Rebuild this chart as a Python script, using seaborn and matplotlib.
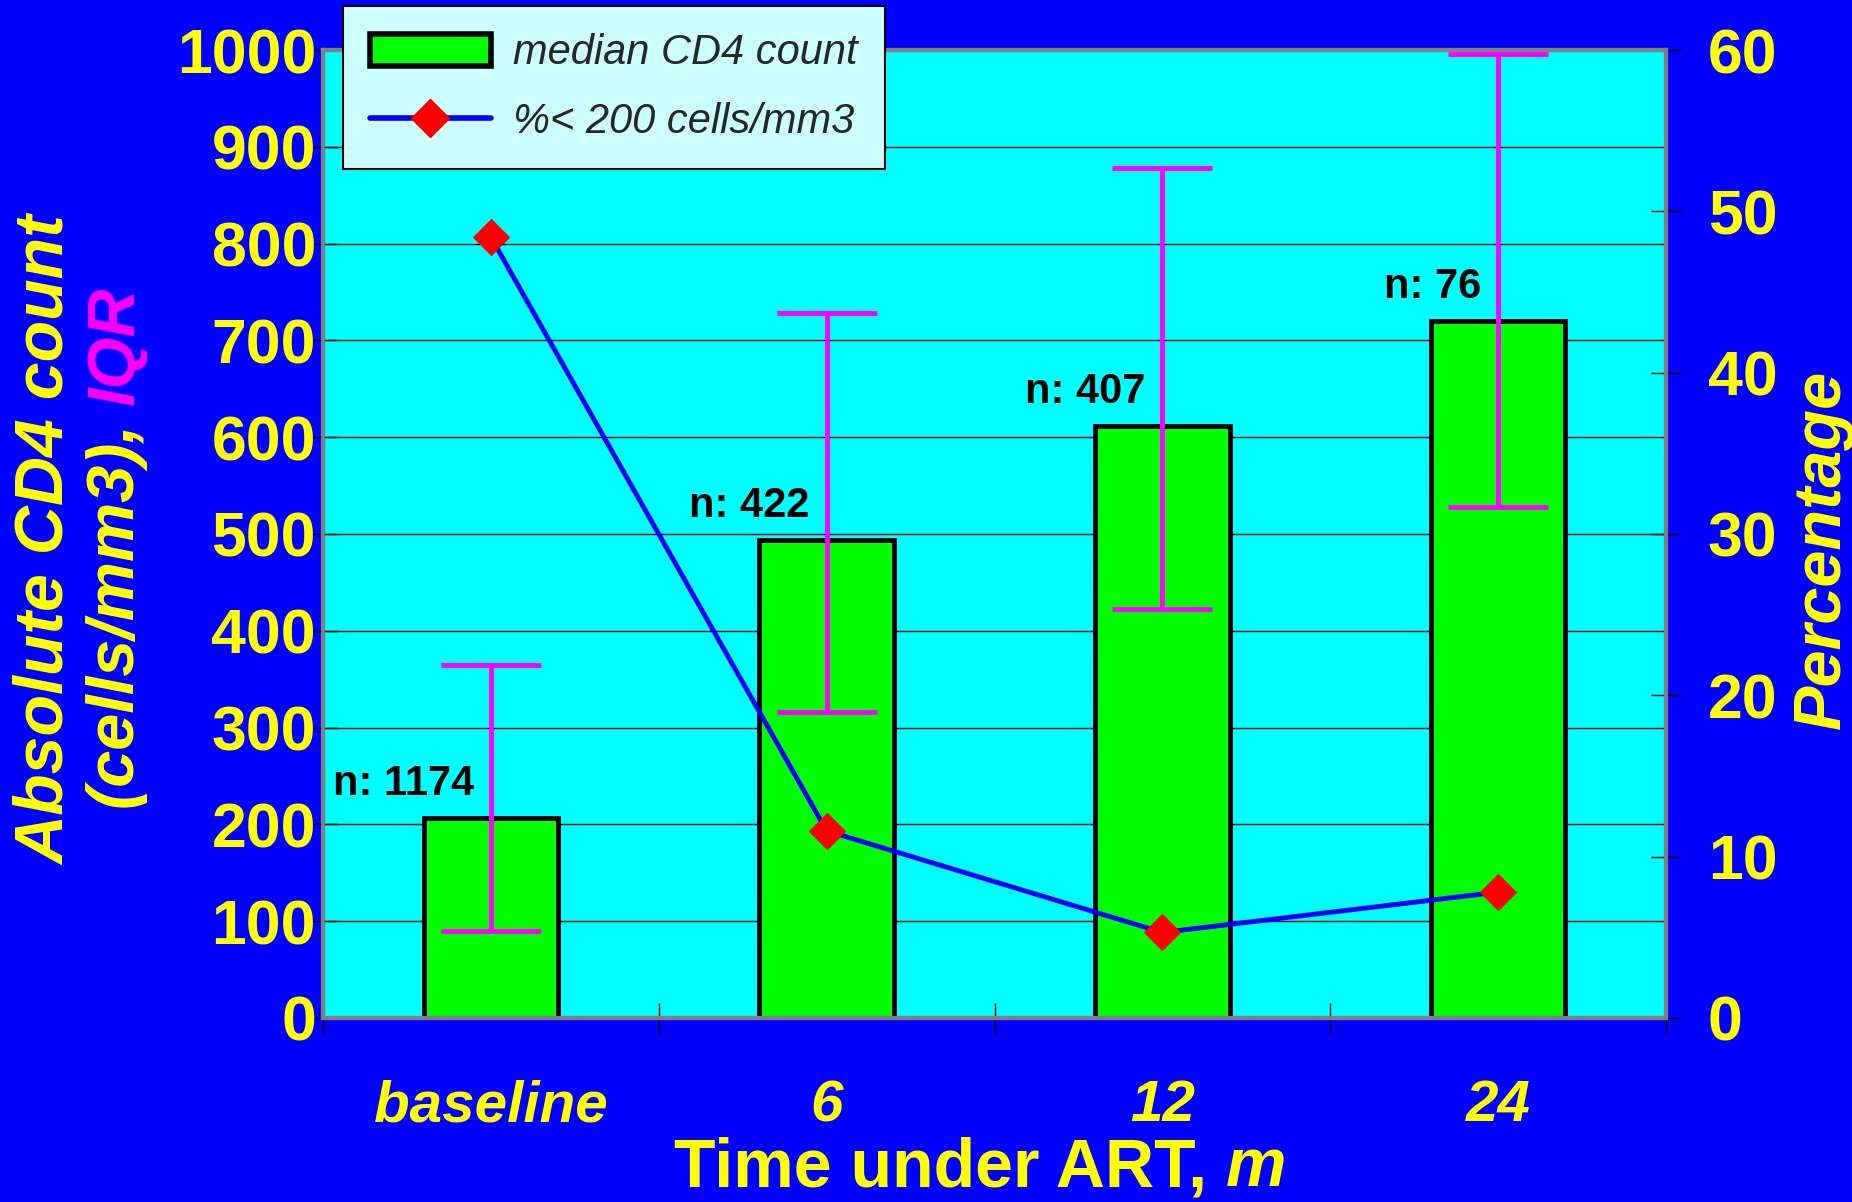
import numpy as np
import pandas as pd
import matplotlib
matplotlib.use("Agg")
import matplotlib.pyplot as plt
import seaborn as sns
from matplotlib.patches import Patch
from matplotlib.lines import Line2D

# --- DATA ---
timepoints = ["baseline", "6", "12", "24"]
median_cd4 = [207, 494, 612, 720]
iqr_low = [90, 316, 422, 528]
iqr_high = [365, 728, 878, 996]
pct_below_200 = [48.4, 11.6, 5.3, 7.8]
n_patients = [1174, 422, 407, 76]

# --- COLOURS ---
BLUE = "#0000FF"
CYAN = "#00FFFF"
GREEN = "#00FF00"
YELLOW = "#FFFF00"
MAGENTA = "#FF00FF"
RED = "#FF0000"

sns.set_theme(style="white")
plt.rcParams["font.family"] = ["Liberation Sans", "DejaVu Sans"]

df = pd.DataFrame({"time": timepoints, "cd4": median_cd4})

fig = plt.figure(figsize=(18.52, 12.02), dpi=100, facecolor=BLUE)
ax = fig.add_axes([0.1744, 0.1531, 0.7252, 0.8053])
ax.set_facecolor(CYAN)

# bars
sns.barplot(data=df, x="time", y="cd4", order=timepoints, color=GREEN,
            saturation=1, edgecolor="black", linewidth=3.5, width=0.4, ax=ax, zorder=2)

# IQR whiskers
xpos = np.arange(len(timepoints))
med = np.array(median_cd4)
yerr = [med - np.array(iqr_low), np.array(iqr_high) - med]
ax.errorbar(xpos, med, yerr=yerr, fmt="none", ecolor=MAGENTA, elinewidth=3.5,
            capsize=36, capthick=3.5, zorder=3)

# n labels
for i, (h, n) in enumerate(zip(median_cd4, n_patients)):
    ax.text(i - 0.05, h + 14, f"n: {n}", ha="right", va="bottom",
            fontsize=30, fontweight="bold", color="black", zorder=4)

ax.set_ylim(0, 1000)
ax.set_xlim(-0.5, len(timepoints) - 0.5)
ax.set_yticks(range(0, 1001, 100))
ax.yaxis.grid(True, color="black", linewidth=1)
ax.set_axisbelow(True)
ax.set_xlabel("")
ax.set_ylabel("")

ax.tick_params(axis="y", direction="inout", length=22, width=1, color="black",
               labelsize=45, labelcolor=YELLOW, pad=-6, left=True)
for lab in ax.get_yticklabels():
    lab.set_fontweight("bold")

ax.set_xticks(xpos)
ax.set_xticklabels(timepoints)
ax.set_xticks(np.arange(-0.5, len(timepoints), 1.0), minor=True)
ax.tick_params(axis="x", which="major", length=0, labelsize=42,
               labelcolor=YELLOW, pad=44)
ax.tick_params(axis="x", which="minor", direction="inout", length=22,
               width=1, color="black", bottom=True)
for lab in ax.get_xticklabels():
    lab.set_fontweight("bold")
    lab.set_fontstyle("italic")

for sp in ax.spines.values():
    sp.set_color("#808080")
    sp.set_linewidth(3)

# percentage line on the right axis
ax2 = ax.twinx()
sns.lineplot(x=xpos, y=pct_below_200, ax=ax2, color=BLUE, linewidth=3.5,
             marker="D", markersize=18, markerfacecolor=RED,
             markeredgecolor=RED, sort=False, zorder=5)
ax2.set_ylim(0, 60)
ax2.set_yticks(range(0, 61, 10))
ax2.set_xlim(-0.5, len(timepoints) - 0.5)
ax2.set_ylabel("")
ax2.tick_params(axis="y", direction="inout", length=22, width=1, color="black",
                labelsize=45, labelcolor=YELLOW, pad=19, right=True)
for lab in ax2.get_yticklabels():
    lab.set_fontweight("bold")
for sp in ax2.spines.values():
    sp.set_color("#808080")
    sp.set_linewidth(3)

# axis titles
fig.text(0.025, 0.551, "Absolute CD4 count", rotation=90, ha="center", va="center",
         fontsize=49, fontweight="bold", fontstyle="italic", color=YELLOW)
t_units = fig.text(0.063, 0.327, "(cells/mm3), ", rotation=90, ha="center", va="bottom",
                   fontsize=48, fontweight="bold", fontstyle="italic", color=YELLOW)
ax.annotate("IQR", xy=(0.5, 1.0), xycoords=t_units, rotation=90, ha="center",
            va="bottom", fontsize=48, fontweight="bold", fontstyle="italic",
            color=MAGENTA, annotation_clip=False)

fig.text(0.984, 0.543, "Percentage", rotation=90, ha="center", va="center",
         fontsize=48, fontweight="bold", fontstyle="italic", color=YELLOW)

t_time = fig.text(0.662, 0.028, "Time under ART, ", ha="right", va="center",
                  fontsize=49, fontweight="bold", color=YELLOW)
ax.annotate("m", xy=(1.0, 0.0), xycoords=t_time, ha="left", va="bottom",
            fontsize=49, fontweight="bold", fontstyle="italic", color=YELLOW,
            annotation_clip=False)

# legend
handles = [
    Patch(facecolor=GREEN, edgecolor="black", linewidth=4, label="median CD4 count"),
    Line2D([], [], color=BLUE, linewidth=4, marker="D", markersize=19,
           markerfacecolor=RED, markeredgecolor=RED, label="%< 200 cells/mm3"),
]
leg = ax2.legend(handles=handles, loc="upper left", bbox_to_anchor=(0.185, 0.995),
                 bbox_transform=fig.transFigure, borderaxespad=0, fancybox=False,
                 framealpha=1, facecolor="#CCFFFF", edgecolor="black",
                 prop={"size": 30, "style": "italic"}, handlelength=2.9,
                 handleheight=0.8, handletextpad=0.55, labelspacing=0.7,
                 borderpad=0.65)
leg.get_frame().set_linewidth(1.5)
leg.set_zorder(10)

fig.savefig("out.png", dpi=100, facecolor=BLUE)
